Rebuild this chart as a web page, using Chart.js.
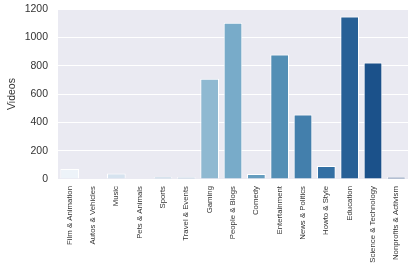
<!DOCTYPE html>
<html><head><meta charset="utf-8">
<script src="https://cdn.jsdelivr.net/npm/chart.js@4/dist/chart.umd.min.js"></script>
<style>html,body{margin:0;padding:0;background:#fff}canvas{display:block}</style>
</head><body>
<canvas id="c" width="415" height="263"></canvas>
<script>
const categories = ["Film & Animation","Autos & Vehicles","Music","Pets & Animals","Sports","Travel & Events","Gaming","People & Blogs","Comedy","Entertainment","News & Politics","Howto & Style","Education","Science & Technology","Nonprofits & Activism"];
const videos = [70, 3, 38, 3, 16, 13, 707, 1103, 35, 878, 456, 92, 1147, 822, 13];
const yTicks = [0, 200, 400, 600, 800, 1000, 1200];

// seaborn "Blues" palette sampling, desaturated like seaborn barplot (0.75)
const stops = [[247,251,255],[222,235,247],[198,219,239],[158,202,225],[107,174,214],[66,146,198],[33,113,181],[8,81,156],[8,48,107]];
function rgb2hls(r,g,b){
  r/=255; g/=255; b/=255;
  const mx=Math.max(r,g,b), mn=Math.min(r,g,b); const l=(mx+mn)/2; let h=0,s=0;
  if(mx!==mn){ const d=mx-mn; s = l>0.5 ? d/(2-mx-mn) : d/(mx+mn);
    if(mx===r) h=((g-b)/d+(g<b?6:0)); else if(mx===g) h=(b-r)/d+2; else h=(r-g)/d+4; h/=6; }
  return [h,l,s];
}
function hue2rgb(p,q,t){ if(t<0)t+=1; if(t>1)t-=1; if(t<1/6)return p+(q-p)*6*t; if(t<1/2)return q; if(t<2/3)return p+(q-p)*(2/3-t)*6; return p; }
function hls2rgb(h,l,s){
  if(s===0) return [l*255,l*255,l*255];
  const q = l<0.5 ? l*(1+s) : l+s-l*s; const p=2*l-q;
  return [hue2rgb(p,q,h+1/3)*255, hue2rgb(p,q,h)*255, hue2rgb(p,q,h-1/3)*255];
}
function blues(t){
  const p = t*(stops.length-1); const i = Math.min(Math.floor(p), stops.length-2); const f = p-i;
  const c = stops[i].map((v,k)=>v+(stops[i+1][k]-v)*f);
  const [h,l,s] = rgb2hls(c[0],c[1],c[2]);
  const o = hls2rgb(h,l,s*0.75).map(Math.round);
  return `rgb(${o[0]},${o[1]},${o[2]})`;
}
const colors = categories.map((_,i)=>blues((i+1)/(categories.length+1)));

const bgPlugin = {
  id:'bg',
  beforeDraw(chart){
    const {ctx, chartArea:a} = chart;
    ctx.save(); ctx.fillStyle='#EAEAF2'; ctx.fillRect(a.left, a.top, a.right-a.left, a.bottom-a.top); ctx.restore();
  }
};

new Chart(document.getElementById('c'), {
  type:'bar',
  data:{labels:categories, datasets:[{data:videos, backgroundColor:colors, borderColor:'#ffffff', borderWidth:1, barPercentage:0.8, categoryPercentage:1}]},
  options:{
    responsive:false, animation:false,
    layout:{padding:{left:0,right:7,top:0,bottom:0}},
    plugins:{legend:{display:false}, tooltip:{enabled:false}},
    scales:{
      x:{
        grid:{display:false, drawTicks:false},
        border:{display:false},
        ticks:{maxRotation:90, minRotation:90, padding:7, color:'#333', font:{family:'Liberation Sans, Arial', size:7.8}, autoSkip:false},
        afterFit(s){ s.height = 84; }
      },
      y:{
        min:0, max:1200,
        afterBuildTicks(s){ s.ticks = yTicks.map(v=>({value:v})); },
        grid:{color:'#ffffff', lineWidth:1, drawTicks:false},
        border:{display:false},
        ticks:{padding:10, color:'#333', font:{family:'Liberation Sans, Arial', size:10.5}, callback:(v)=>String(v)},
        title:{display:true, text:'Videos', color:'#333', font:{family:'Liberation Sans, Arial', size:10.5}, padding:{top:6,bottom:0}},
        afterFit(s){ s.width = 58; s.paddingTop = 9; }
      }
    }
  },
  plugins:[bgPlugin]
});
</script>
</body></html>
